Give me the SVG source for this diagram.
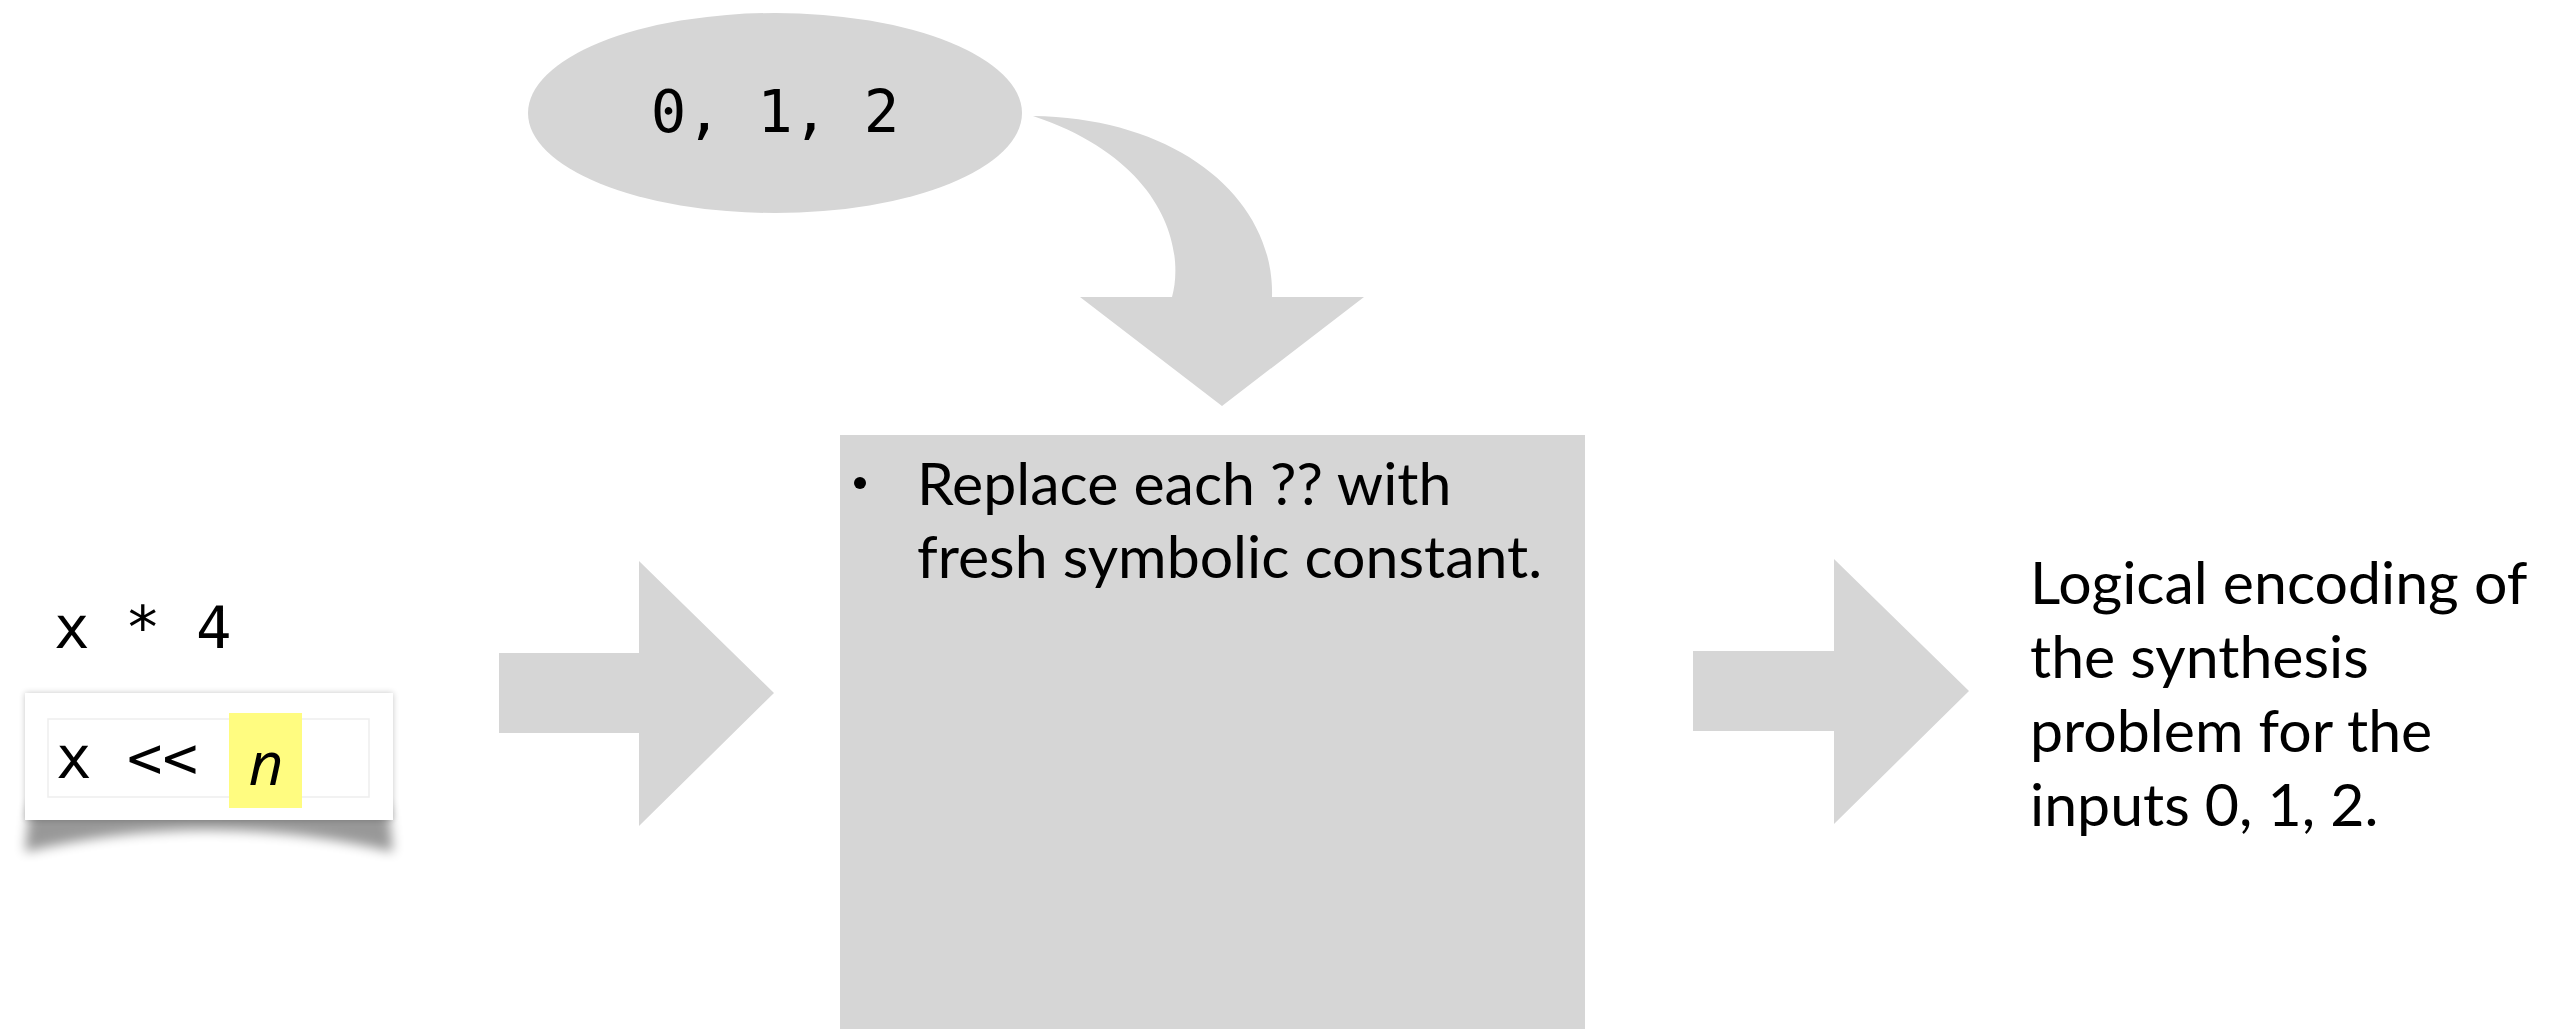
<svg xmlns="http://www.w3.org/2000/svg" width="2558" height="1029" viewBox="0 0 2558 1029">
  <defs>
    <style>
      .shape { fill: #d6d6d6; }
      .mono { font-family: "DejaVu Sans Mono", "Liberation Mono", monospace; font-size: 59px; fill: #000; }
      .body { font-family: "Lato", "Open Sans", sans-serif; font-size: 59px; fill: #000; }
      .ital { font-family: "Open Sans", "DejaVu Sans", sans-serif; font-style: italic; font-size: 60px; fill: #000; }
    </style>
    <filter id="blur6" x="-20%" y="-50%" width="140%" height="200%">
      <feGaussianBlur stdDeviation="6"/>
    </filter>
    <filter id="blur3" x="-20%" y="-50%" width="140%" height="200%">
      <feGaussianBlur stdDeviation="3"/>
    </filter>
  </defs>
  <rect width="2558" height="1029" fill="#ffffff"/>

  <g id="connectors">
    <path id="arrow-top" class="shape" d="M1033,116 C1180,118 1275,200 1272,297 L1364,297 L1222,406 L1080,297 L1172,297 C1185,250 1165,160 1033,116 Z"/>
    <path id="arrow-left" class="shape" d="M499,653 L639,653 L639,561 L774,693 L639,826 L639,733 L499,733 Z"/>
    <path id="arrow-right" class="shape" d="M1693,651 L1834,651 L1834,559 L1969,691 L1834,824 L1834,731 L1693,731 Z"/>
  </g>

  <g id="node-inputs">
    <ellipse class="shape" cx="775" cy="113" rx="247" ry="100"/>
    <text class="mono" x="775" y="132" text-anchor="middle">0, 1, 2</text>
  </g>

  <g id="node-program">
    <text class="mono" x="54" y="648" xml:space="preserve">x * 4</text>
    <path d="M30,805 L388,805 L393,852 Q209,808 25,852 Z" fill="#000" opacity="0.4" filter="url(#blur6)"/>
    <rect x="25" y="693" width="368" height="127" fill="#000" opacity="0.22" filter="url(#blur3)"/>
    <rect x="25" y="693" width="368" height="127" fill="#ffffff"/>
    <rect x="48" y="719" width="321" height="78" fill="#ffffff" stroke="#eeeeee" stroke-width="1.5"/>
    <rect x="229" y="713" width="73" height="95" fill="#fffc80"/>
    <text class="mono" x="56" y="778" xml:space="preserve">x &lt;&lt;</text>
    <text class="ital" x="266" y="785" text-anchor="middle">n</text>
  </g>

  <g id="node-process">
    <rect class="shape" x="840" y="435" width="745" height="600"/>
    <circle cx="860" cy="483" r="6" fill="#000"/>
    <text class="body" x="917" y="505">Replace each ?? with</text>
    <text class="body" x="917" y="578">fresh symbolic constant.</text>
  </g>

  <g id="node-output">
    <text class="body" x="2030" y="604">Logical encoding of</text>
    <text class="body" x="2030" y="678">the synthesis</text>
    <text class="body" x="2030" y="752">problem for the</text>
    <text class="body" x="2030" y="826">inputs 0, 1, 2.</text>
  </g>
</svg>
